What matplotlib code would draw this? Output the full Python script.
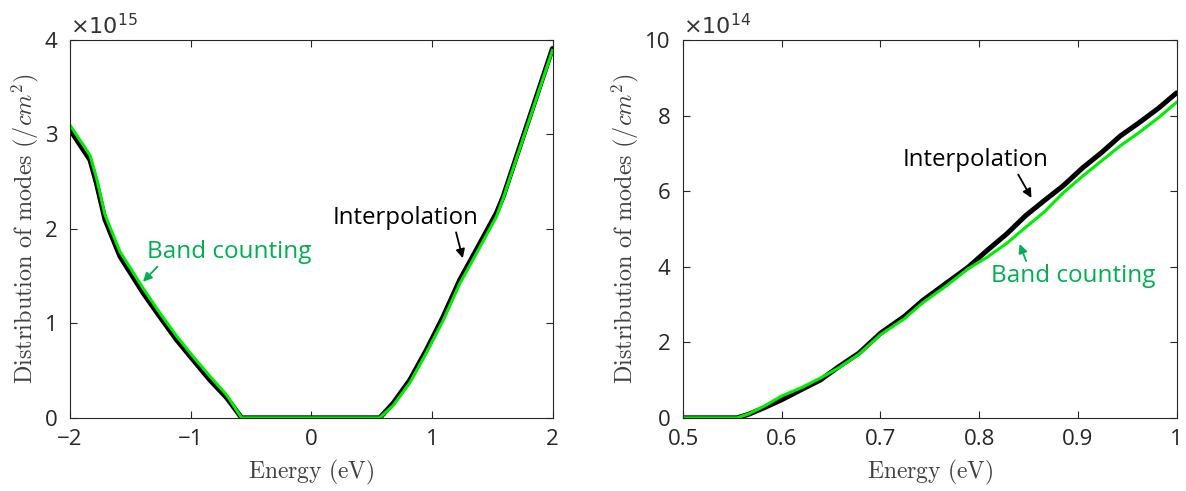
import matplotlib
matplotlib.use("Agg")
import matplotlib.pyplot as plt

plt.rcParams["mathtext.fontset"] = "cm"
plt.rcParams["font.family"] = ["Open Sans", "DejaVu Sans"]

# left panel: full energy range, values in units of 1e15 /cm^2
e_full = [-2.0, -1.834, -1.78, -1.71, -1.586, -1.393, -1.255, -1.116, -0.98, -0.84,
          -0.70, -0.578, 0.0, 0.567, 0.678, 0.816, 0.954, 1.092, 1.23, 1.368,
          1.534, 1.589, 1.727, 1.865, 1.998]
interp_full = [3.05, 2.73, 2.48, 2.10, 1.71, 1.32, 1.07, 0.825, 0.614, 0.40,
               0.21, 0.0, 0.0, 0.0, 0.155, 0.40, 0.72, 1.07, 1.46, 1.78,
               2.17, 2.34, 2.87, 3.40, 3.91]
band_full = [3.10, 2.78, 2.54, 2.15, 1.76, 1.37, 1.11, 0.865, 0.65, 0.44,
             0.24, 0.0, 0.0, 0.0, 0.13, 0.37, 0.69, 1.03, 1.42, 1.74,
             2.13, 2.32, 2.85, 3.38, 3.89]

# right panel: zoom near the band edge, values in units of 1e14 /cm^2
e_zoom = [0.50, 0.5546, 0.566, 0.5815, 0.60, 0.62, 0.639, 0.658, 0.678, 0.70, 0.724,
          0.743, 0.766, 0.789, 0.808, 0.828, 0.847, 0.866, 0.885, 0.905, 0.924,
          0.943, 0.962, 0.982, 1.0]
interp_zoom = [0.0, 0.0, 0.09, 0.26, 0.48, 0.75, 1.0, 1.36, 1.71, 2.24, 2.68,
               3.11, 3.55, 3.99, 4.43, 4.87, 5.35, 5.75, 6.14, 6.62, 7.02,
               7.46, 7.81, 8.20, 8.60]
band_zoom = [0.0, 0.0, 0.10, 0.30, 0.58, 0.80, 1.05, 1.33, 1.68, 2.20, 2.62,
             3.05, 3.48, 3.95, 4.25, 4.62, 5.04, 5.45, 5.95, 6.40, 6.80,
             7.20, 7.55, 7.95, 8.35]

BLACK = "#000000"
GREEN = "#00ee00"
LABEL_GREEN = "#00b050"
TICK = "#262626"


def style(ax, xlim, ylim, xticks, yticks, xtl, exponent):
    ax.set_xlim(*xlim)
    ax.set_ylim(*ylim)
    ax.set_xticks(xticks)
    ax.set_xticklabels(xtl)
    ax.set_yticks(yticks)
    ax.tick_params(direction="in", top=True, right=True, length=5, width=0.8,
                   colors=TICK, labelsize=16)
    ax.tick_params(axis="x", pad=8)
    ax.tick_params(axis="y", pad=9)
    for s in ax.spines.values():
        s.set_color(TICK)
        s.set_linewidth(0.8)
    ax.set_xlabel(r"$\mathrm{Energy\ (eV)}$", fontsize=17, color="#404040", labelpad=6)
    ax.set_ylabel(r"$\mathrm{Distribution\ of\ modes}\ (/cm^2)$", fontsize=17.5,
                  color="#404040", labelpad=3)
    ax.text(0.0, 1.005, r"$\times10^{%d}$" % exponent, transform=ax.transAxes,
            fontsize=16, color="#333333", ha="left", va="bottom",
            family=["DejaVu Sans"], math_fontfamily="dejavusans")


fig = plt.figure(figsize=(11.86, 4.91), dpi=100)
ax1 = fig.add_axes([0.059, 0.149, 0.407, 0.7695])
ax2 = fig.add_axes([0.576, 0.149, 0.416, 0.7695])

arrow = dict(arrowstyle="-|>", lw=1.3, shrinkA=0, shrinkB=0, mutation_scale=13)

ax1.plot(e_full, interp_full, color=BLACK, lw=3.6, solid_capstyle="round")
ax1.plot(e_full, band_full, color=GREEN, lw=2.2)
style(ax1, (-2, 2), (0, 4), [-2, -1, 0, 1, 2], [0, 1, 2, 3, 4],
      ["\u22122", "\u22121", "0", "1", "2"], 15)
ax1.annotate("Interpolation", xy=(1.255, 1.69), xytext=(0.178, 2.12),
             fontsize=17.3, color=BLACK, va="center", ha="left",
             arrowprops=dict(arrow, color=BLACK, relpos=(0.84, 0.0)))
ax1.annotate("Band counting", xy=(-1.395, 1.44), xytext=(-1.362, 1.757),
             fontsize=17.5, color=LABEL_GREEN, va="center", ha="left",
             arrowprops=dict(arrow, color=LABEL_GREEN, relpos=(0.08, 0.0)))

ax2.plot(e_zoom, interp_zoom, color=BLACK, lw=3.6, solid_capstyle="round")
ax2.plot(e_zoom, band_zoom, color=GREEN, lw=2.2)
style(ax2, (0.5, 1.0), (0, 10), [0.5, 0.6, 0.7, 0.8, 0.9, 1.0], [0, 2, 4, 6, 8, 10],
      ["0.5", "0.6", "0.7", "0.8", "0.9", "1"], 14)
ax2.annotate("Interpolation", xy=(0.853, 5.82), xytext=(0.7227, 6.83),
             fontsize=17.3, color=BLACK, va="center", ha="left",
             arrowprops=dict(arrow, color=BLACK, relpos=(0.78, 0.0)))
ax2.annotate("Band counting", xy=(0.841, 4.6), xytext=(0.812, 3.76),
             fontsize=17.5, color=LABEL_GREEN, va="center", ha="left",
             arrowprops=dict(arrow, color=LABEL_GREEN, relpos=(0.22, 1.0)))

fig.savefig("out.png", dpi=100)
